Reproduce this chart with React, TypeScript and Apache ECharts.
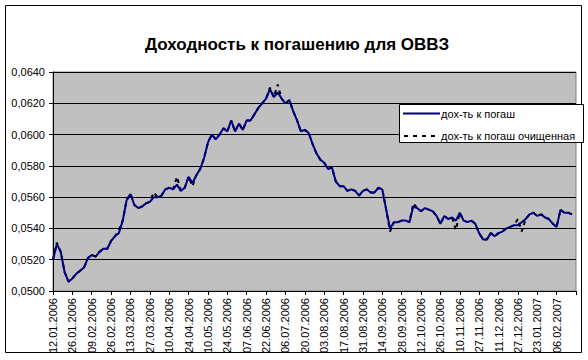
import React, { useEffect, useRef } from "react";
import * as echarts from "echarts";

const tickLabels = [
  "12.01.2006", "26.01.2006", "09.02.2006", "26.02.2006", "13.03.2006", "27.03.2006",
  "10.04.2006", "24.04.2006", "10.05.2006", "24.05.2006", "07.06.2006", "22.06.2006",
  "06.07.2006", "20.07.2006", "03.08.2006", "17.08.2006", "31.08.2006", "14.09.2006",
  "28.09.2006", "12.10.2006", "26.10.2006", "10.11.2006", "27.11.2006", "11.12.2006",
  "27.12.2006", "23.01.2007", "06.02.2007",
];

const seriesNames = ["дох-ть к погаш", "дох-ть к погаш очищенная"];

// one value every 2 trading days
const DAY_STEP = 2;

const yieldRaw = [
  0.0520, 0.0530, 0.0525, 0.0512, 0.0506, 0.0508, 0.0511, 0.0513, 0.0515, 0.0521,
  0.0523, 0.0522, 0.0525, 0.0527, 0.0527, 0.0532, 0.0535, 0.0537, 0.0545, 0.0558,
  0.0562, 0.0555, 0.0553, 0.0554, 0.0556, 0.0557, 0.0560, 0.0560, 0.0561, 0.0565,
  0.0566, 0.0565, 0.0568, 0.0564, 0.0566, 0.0573, 0.0569, 0.0574, 0.0578, 0.0585,
  0.0595, 0.0600, 0.0597, 0.0600, 0.0604, 0.0602, 0.0609, 0.0602, 0.0607, 0.0603,
  0.0609, 0.0609, 0.0613, 0.0617, 0.0620, 0.0623, 0.0629, 0.0624, 0.0627, 0.0623,
  0.0620, 0.0622, 0.0615, 0.0609, 0.0602, 0.0603, 0.0601, 0.0594, 0.0588, 0.0584,
  0.0582, 0.0578, 0.0579, 0.0570, 0.0567, 0.0567, 0.0564, 0.0565, 0.0564, 0.0561,
  0.0564, 0.0565, 0.0563, 0.0563, 0.0566, 0.0565, 0.0552, 0.0540, 0.0544, 0.0544,
  0.0545, 0.0545, 0.0544, 0.0554, 0.0553, 0.0551, 0.0553, 0.0552, 0.0551, 0.0548,
  0.0543, 0.0548, 0.0546, 0.0547, 0.0545, 0.0550, 0.0545, 0.0544, 0.0545, 0.0543,
  0.0537, 0.0533, 0.0533, 0.0537, 0.0535, 0.0537, 0.0538, 0.0540, 0.0541, 0.0542,
  0.0542, 0.0544, 0.0546, 0.0549, 0.0550, 0.0548, 0.0549, 0.0547, 0.0546, 0.0543,
  0.0541, 0.0552, 0.0550, 0.0550, 0.0549,
];

const yieldClean = [
  0.0520, 0.0531, 0.0525, 0.0512, 0.0506, 0.0508, 0.0511, 0.0513, 0.0515, 0.0521,
  0.0523, 0.0522, 0.0525, 0.0527, 0.0527, 0.0532, 0.0535, 0.0539, 0.0545, 0.0558,
  0.0562, 0.0555, 0.0553, 0.0554, 0.0556, 0.0557, 0.0563, 0.0560, 0.0561, 0.0565,
  0.0566, 0.0565, 0.0573, 0.0564, 0.0566, 0.0573, 0.0567, 0.0574, 0.0578, 0.0585,
  0.0595, 0.0600, 0.0597, 0.0600, 0.0604, 0.0602, 0.0609, 0.0602, 0.0607, 0.0603,
  0.0609, 0.0609, 0.0613, 0.0617, 0.0620, 0.0623, 0.0630, 0.0624, 0.0632, 0.0623,
  0.0620, 0.0622, 0.0615, 0.0609, 0.0602, 0.0603, 0.0601, 0.0594, 0.0588, 0.0584,
  0.0582, 0.0578, 0.0579, 0.0570, 0.0567, 0.0567, 0.0564, 0.0565, 0.0564, 0.0561,
  0.0564, 0.0565, 0.0563, 0.0563, 0.0566, 0.0565, 0.0552, 0.0538, 0.0544, 0.0544,
  0.0545, 0.0545, 0.0544, 0.0556, 0.0553, 0.0551, 0.0553, 0.0552, 0.0551, 0.0548,
  0.0543, 0.0548, 0.0546, 0.0547, 0.0539, 0.0550, 0.0545, 0.0544, 0.0545, 0.0543,
  0.0537, 0.0533, 0.0533, 0.0537, 0.0535, 0.0537, 0.0538, 0.0540, 0.0541, 0.0542,
  0.0546, 0.0538, 0.0546, 0.0549, 0.0550, 0.0548, 0.0549, 0.0547, 0.0546, 0.0543,
  0.0541, 0.0552, 0.0550, 0.0550, 0.0549,
];

const FONT = "'Liberation Sans', Arial, sans-serif";

export default function App() {
  const ref = useRef<HTMLDivElement>(null);
  useEffect(() => {
    document.body.style.margin = "0";
    const chart = echarts.init(ref.current!, null, { renderer: "svg" });
    const toPairs = (arr: number[]) => arr.map((v, k) => [k * DAY_STEP, v]);
    chart.setOption({
      animation: false,
      backgroundColor: "#ffffff",
      textStyle: { fontFamily: FONT },
      graphic: [
        {
          type: "rect",
          z: 100,
          shape: { x: 5.5, y: 5.5, width: 576, height: 347 },
          style: { fill: "none", stroke: "#000", lineWidth: 1 },
        },
        {
          type: "text",
          z: 100,
          x: 297,
          y: 44,
          style: {
            text: "Доходность к погашению для ОВВЗ",
            font: `bold 17px ${FONT}`,
            fill: "#000",
            textAlign: "center",
            textVerticalAlign: "middle",
          },
        },
        {
          type: "rect",
          z: 100,
          shape: { x: 399.5, y: 104.5, width: 184, height: 38 },
          style: { fill: "#fff", stroke: "#000", lineWidth: 1 },
        },
        {
          type: "line",
          z: 101,
          shape: { x1: 403, y1: 113.5, x2: 440, y2: 113.5 },
          style: { stroke: "#000080", lineWidth: 2 },
        },
        {
          type: "text",
          z: 101,
          x: 441,
          y: 113.5,
          style: {
            text: seriesNames[0],
            font: `11px ${FONT}`,
            fill: "#000",
            textVerticalAlign: "middle",
          },
        },
        {
          type: "line",
          z: 101,
          shape: { x1: 404, y1: 136, x2: 440, y2: 136 },
          style: { stroke: "#000", lineWidth: 2, lineDash: [4, 5] },
        },
        {
          type: "text",
          z: 101,
          x: 441,
          y: 136,
          style: {
            text: seriesNames[1],
            font: `11px ${FONT}`,
            fill: "#000",
            textVerticalAlign: "middle",
          },
        },
      ],
      grid: {
        left: 53,
        top: 72,
        width: 523,
        height: 219,
        show: true,
        backgroundColor: "#C0C0C0",
        borderColor: "#808080",
        borderWidth: 1,
      },
      xAxis: {
        type: "value",
        min: 0,
        max: 270,
        interval: 10,
        axisLine: { show: true, onZero: false, lineStyle: { color: "#000", width: 1 } },
        axisTick: { show: true, inside: false, length: 4, lineStyle: { color: "#000" } },
        splitLine: { show: false },
        axisLabel: {
          rotate: 90,
          margin: 7,
          fontSize: 11,
          color: "#000",
          fontFamily: FONT,
          showMaxLabel: true,
          formatter: (v: number) => tickLabels[Math.round(v / 10)] ?? "",
        },
      },
      yAxis: {
        type: "value",
        min: 0.05,
        max: 0.064,
        interval: 0.002,
        axisLine: { show: true, lineStyle: { color: "#000", width: 1 } },
        axisTick: { show: true, inside: false, length: 4, lineStyle: { color: "#000" } },
        splitLine: { show: true, lineStyle: { color: "#000", width: 1 } },
        axisLabel: {
          margin: 8,
          fontSize: 11,
          color: "#000",
          fontFamily: FONT,
          formatter: (v: number) => v.toFixed(4).replace(".", ","),
        },
      },
      series: [
        {
          name: seriesNames[0],
          type: "line",
          z: 3,
          symbol: "none",
          showSymbol: false,
          data: toPairs(yieldRaw),
          lineStyle: { color: "#000080", width: 2 },
          itemStyle: { color: "#000080" },
        },
        {
          name: seriesNames[1],
          type: "line",
          z: 2,
          symbol: "none",
          showSymbol: false,
          data: toPairs(yieldClean),
          lineStyle: { color: "#000000", width: 2, type: [4, 4] },
          itemStyle: { color: "#000000" },
        },
      ],
    });
    return () => chart.dispose();
  }, []);
  return <div ref={ref} style={{ width: 588, height: 360 }} />;
}
